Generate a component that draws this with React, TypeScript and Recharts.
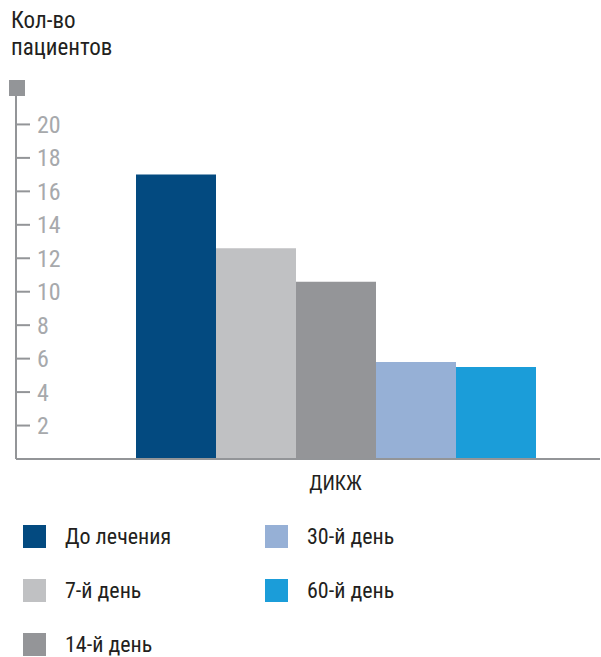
import { BarChart, Bar, XAxis, YAxis } from "recharts";

const categories = ["ДИКЖ"];
const seriesNames = ["До лечения", "7-й день", "14-й день", "30-й день", "60-й день"];
const seriesKeys = ["before", "d7", "d14", "d30", "d60"];
const seriesValues = [[17], [12.6], [10.6], [5.8], [5.5]];
const seriesColors = ["#034a80", "#c0c1c3", "#949598", "#96b0d6", "#1b9dd9"];
const yTicks = [2, 4, 6, 8, 10, 12, 14, 16, 18, 20];

const data = categories.map((name, i) => {
  const row: Record<string, string | number> = { name };
  seriesKeys.forEach((k, s) => {
    row[k] = seriesValues[s][i];
  });
  return row;
});

const FONT = "'Liberation Sans Narrow', 'Roboto Condensed', Roboto, sans-serif";

function LegendBlock() {
  return (
    <div style={{ position: "absolute", left: 0, top: 525, width: 601, height: 132 }}>
      {seriesNames.map((name, i) => {
        const col = i < 3 ? 0 : 1;
        const row = i % 3;
        return (
          <div
            key={name}
            style={{
              position: "absolute",
              left: col === 0 ? 23 : 265,
              top: row * 54,
              display: "flex",
              alignItems: "center",
              height: 23,
            }}
          >
            <span style={{ width: 23, height: 23, background: seriesColors[i], display: "inline-block" }} />
            <span style={{ marginLeft: 19, fontSize: 22, color: "#231f20", fontFamily: FONT }}>{name}</span>
          </div>
        );
      })}
    </div>
  );
}

export default function App() {
  return (
    <div style={{ position: "absolute", left: 0, top: 0, width: 601, height: 657, background: "#fff", fontFamily: FONT }}>
      <div style={{ position: "absolute", left: 11, top: 7, fontSize: 23, lineHeight: "27px", color: "#231f20" }}>
        Кол-во
        <br />
        пациентов
      </div>
      <div style={{ position: "absolute", left: 9, top: 80, width: 16, height: 16, background: "#939598" }} />
      <BarChart
        width={601}
        height={657}
        data={data}
        margin={{ top: 96, right: 1, bottom: 158, left: 16 }}
        barGap={0}
        barCategoryGap={64}
      >
        <XAxis
          dataKey="name"
          padding={{ left: 55, right: 0 }}
          tickLine={false}
          axisLine={{ stroke: "#939598", strokeWidth: 2 }}
          tick={{ fill: "#231f20", fontSize: 20, fontFamily: FONT }}
          tickMargin={11}
          height={40}
        />
        <YAxis
          mirror
          domain={[0, 21.7]}
          ticks={yTicks}
          interval={0}
          allowDataOverflow
          tickSize={14}
          tickMargin={7}
          axisLine={{ stroke: "#939598", strokeWidth: 2 }}
          tickLine={{ stroke: "#939598", strokeWidth: 2 }}
          tick={{ fill: "#a7a9ac", fontSize: 24, fontFamily: FONT }}
        />
        {seriesKeys.map((k, s) => (
          <Bar key={k} dataKey={k} name={seriesNames[s]} fill={seriesColors[s]} barSize={80} isAnimationActive={false} />
        ))}
      </BarChart>
      <LegendBlock />
    </div>
  );
}
